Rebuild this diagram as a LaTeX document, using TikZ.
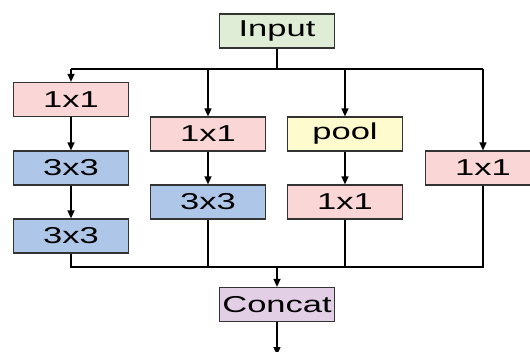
\documentclass[tikz,border=0pt]{standalone}
\usepackage{fontspec}
\setmainfont{Liberation Sans}
\usetikzlibrary{arrows.meta}
\definecolor{inGreen}{HTML}{DFEDD6}
\definecolor{convPink}{HTML}{FAD7D6}
\definecolor{convBlue}{HTML}{AEC6E8}
\definecolor{poolYellow}{HTML}{FEFBCE}
\definecolor{catPurple}{HTML}{E2CFE6}
\definecolor{edgeGray}{HTML}{333333}
\newcommand{\wlabel}[1]{\scalebox{1.5}[1]{#1}}
\begin{document}
\begin{tikzpicture}[x=1pt,y=-1pt,
  block/.style={draw=edgeGray,line width=1.2pt,minimum width=115pt,minimum height=34pt,
    inner sep=0pt,font=\fontsize{23}{25}\selectfont},
  link/.style={line width=1.4pt,black},
  arr/.style={link,-{Triangle[width=7pt,length=8pt]}}]
\clip (0,0) rectangle (530,351);
\useasboundingbox (0,0) rectangle (530,351);
% blocks
\node[block,fill=inGreen]   (inp)  at (277,31)    {\wlabel{Input}};
\node[block,fill=convPink]  (a1)   at (71,99.5)   {\wlabel{1x1}};
\node[block,fill=convBlue]  (a2)   at (71,168)    {\wlabel{3x3}};
\node[block,fill=convBlue]  (a3)   at (71,236)    {\wlabel{3x3}};
\node[block,fill=convPink]  (b1)   at (208,134)   {\wlabel{1x1}};
\node[block,fill=convBlue]  (b2)   at (208,202)   {\wlabel{3x3}};
\node[block,fill=poolYellow](c1)   at (345,134)   {\wlabel{pool}};
\node[block,fill=convPink]  (c2)   at (345,202)   {\wlabel{1x1}};
\node[block,fill=convPink]  (d1)   at (483,168)   {\wlabel{1x1}};
\node[block,fill=catPurple] (cat)  at (277,304.5) {\wlabel{Concat}};
% split and merge rails
\coordinate (split) at (277,69);
\coordinate (merge) at (277,267);
\coordinate (out)   at (277,355);
\draw[link] (inp.south) -- (split);
\draw[link] (a1.north |- split) -- (d1.north |- split);
\draw[arr] (a1.north |- split) -- (a1.north);
\draw[arr] (b1.north |- split) -- (b1.north);
\draw[arr] (c1.north |- split) -- (c1.north);
\draw[arr] (d1.north |- split) -- (d1.north);
% inside the branches
\draw[arr] (a1) -- (a2);
\draw[arr] (a2) -- (a3);
\draw[arr] (b1) -- (b2);
\draw[arr] (c1) -- (c2);
% merge into concat
\draw[link] (a3.south) -- (a3.south |- merge) -- (d1.south |- merge) -- (d1.south);
\draw[link] (b2.south) -- (b2.south |- merge);
\draw[link] (c2.south) -- (c2.south |- merge);
\draw[arr] (merge) -- (cat.north);
\draw[arr] (cat.south) -- (out);
\end{tikzpicture}
\end{document}
